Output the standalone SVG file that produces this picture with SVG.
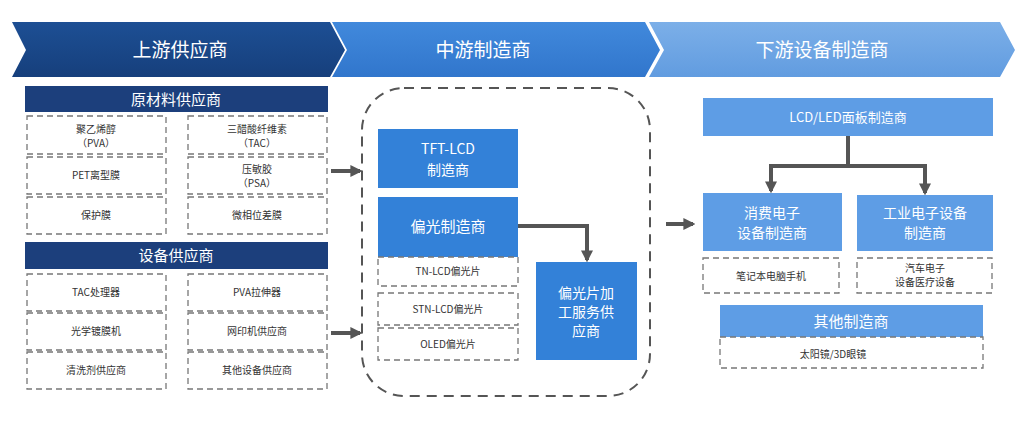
<svg xmlns="http://www.w3.org/2000/svg" width="1024" height="421" viewBox="0 0 1024 421">
<defs>
<linearGradient id="g1" x1="0" y1="0" x2="0" y2="1"><stop offset="0" stop-color="#1d4f94"/><stop offset="1" stop-color="#163f7c"/></linearGradient>
<linearGradient id="g2" x1="0" y1="0" x2="0" y2="1"><stop offset="0" stop-color="#4189dc"/><stop offset="1" stop-color="#3176cc"/></linearGradient>
<linearGradient id="g3" x1="0" y1="0" x2="0" y2="1"><stop offset="0" stop-color="#7cafe8"/><stop offset="1" stop-color="#619ce0"/></linearGradient>
<marker id="ah" viewBox="0 0 10 10" refX="8" refY="5" markerWidth="3" markerHeight="3" orient="auto"><path d="M0,0 L10,5 L0,10 z" fill="#555"/></marker>
<style>
.hdr{fill:#fff;font-family:"Noto Sans CJK SC","Liberation Sans",sans-serif;font-size:19px;text-anchor:middle}
.sub{fill:#fff;font-family:"Noto Sans CJK SC","Liberation Sans",sans-serif;font-size:15px;text-anchor:middle}
.wt{fill:#fff;font-family:"Noto Sans CJK SC","Liberation Sans",sans-serif;font-size:14px;text-anchor:middle}
.ct{fill:#333;font-family:"Noto Sans CJK SC","Liberation Sans",sans-serif;font-size:10px;text-anchor:middle}
.cell{fill:#fff;stroke:#777;stroke-width:1.3;stroke-dasharray:6,4}
.navy{fill:#1c3f7c}
.mid{fill:#3381d8}
.rgt{fill:#5e9de5}
.conn{fill:none;stroke:#555;stroke-width:4}
</style>
</defs>
<rect width="1024" height="421" fill="#fff"/>
<g id="banner">
<path d="M12,22 L330,22 L345,50 L330,77 L12,77 L26,50 z" fill="url(#g1)"/>
<path d="M332,22 L645,22 L660,50 L645,77 L332,77 L347,50 z" fill="url(#g2)"/>
<path d="M649,22 L1000,22 L1015,50 L1000,77 L649,77 L664,50 z" fill="url(#g3)"/>
<text class="hdr" x="180" y="57">上游供应商</text>
<text class="hdr" x="483" y="57">中游制造商</text>
<text class="hdr" x="822" y="57">下游设备制造商</text>
</g>
<g id="raw">
<rect class="navy" x="25" y="86" width="303" height="26"/>
<text class="sub" x="176" y="105">原材料供应商</text>
<rect class="cell" x="27" y="116" width="139" height="38"/>
<text class="ct" x="96" y="133">聚乙烯醇</text><text class="ct" x="96" y="147">（PVA）</text>
<rect class="cell" x="188" y="116" width="139" height="38"/>
<text class="ct" x="257" y="133">三醋酸纤维素</text><text class="ct" x="257" y="147">（TAC）</text>
<rect class="cell" x="27" y="157" width="139" height="37"/>
<text class="ct" x="96" y="179">PET离型膜</text>
<rect class="cell" x="188" y="157" width="139" height="37"/>
<text class="ct" x="257" y="173">压敏胶</text><text class="ct" x="257" y="187">（PSA）</text>
<rect class="cell" x="27" y="197" width="139" height="37"/>
<text class="ct" x="96" y="219">保护膜</text>
<rect class="cell" x="188" y="197" width="139" height="37"/>
<text class="ct" x="257" y="219">微相位差膜</text>
</g>
<g id="equip">
<rect class="navy" x="25" y="242" width="303" height="27"/>
<text class="sub" x="176" y="261">设备供应商</text>
<rect class="cell" x="27" y="274" width="139" height="37"/>
<text class="ct" x="96" y="296">TAC处理器</text>
<rect class="cell" x="188" y="274" width="139" height="37"/>
<text class="ct" x="257" y="296">PVA拉伸器</text>
<rect class="cell" x="27" y="313" width="139" height="37"/>
<text class="ct" x="96" y="335">光学镀膜机</text>
<rect class="cell" x="188" y="313" width="139" height="37"/>
<text class="ct" x="257" y="335">网印机供应商</text>
<rect class="cell" x="27" y="352" width="139" height="37"/>
<text class="ct" x="96" y="374">清洗剂供应商</text>
<rect class="cell" x="188" y="352" width="139" height="37"/>
<text class="ct" x="257" y="374">其他设备供应商</text>
</g>
<g id="midstream">
<rect x="362" y="88" width="288" height="308" rx="42" fill="none" stroke="#555" stroke-width="2" stroke-dasharray="10,7"/>
<g id="tft"><rect class="mid" x="378" y="129" width="140" height="59"/>
<text class="wt" x="448" y="154">TFT-LCD</text><text class="wt" x="448" y="175">制造商</text></g>
<g id="pol"><rect class="mid" x="378" y="197" width="140" height="60"/>
<text class="sub" x="448" y="232">偏光制造商</text></g>
<rect class="cell" x="378" y="257" width="140" height="29"/>
<text class="ct" x="448" y="275">TN-LCD偏光片</text>
<rect class="cell" x="378" y="293" width="140" height="32"/>
<text class="ct" x="448" y="313">STN-LCD偏光片</text>
<rect class="cell" x="378" y="328" width="140" height="32"/>
<text class="ct" x="448" y="348">OLED偏光片</text>
<g id="svc"><rect class="mid" x="536" y="262" width="101" height="98"/>
<text class="wt" x="586" y="298">偏光片加</text><text class="wt" x="586" y="317">工服务供</text><text class="wt" x="586" y="336">应商</text></g>
</g>
<g id="downstream">
<g id="panel"><rect class="rgt" x="703" y="98" width="290" height="38"/>
<text class="ct" x="848" y="122" style="fill:#fff;font-size:13px">LCD/LED面板制造商</text></g>
<g id="cons"><rect class="rgt" x="703" y="193" width="139" height="58"/>
<text class="wt" x="772" y="218">消费电子</text><text class="wt" x="772" y="238">设备制造商</text></g>
<g id="ind"><rect class="rgt" x="857" y="195" width="136" height="56"/>
<text class="wt" x="925" y="218">工业电子设备</text><text class="wt" x="925" y="238">制造商</text></g>
<rect class="cell" x="703" y="258" width="136" height="35"/>
<text class="ct" x="771" y="280">笔记本电脑手机</text>
<rect class="cell" x="857" y="258" width="135" height="35"/>
<text class="ct" x="925" y="272">汽车电子</text><text class="ct" x="925" y="286">设备医疗设备</text>
<g id="other"><rect class="rgt" x="720" y="305" width="263" height="32"/>
<text class="sub" x="851" y="327">其他制造商</text></g>
<rect class="cell" x="720" y="337" width="263" height="31"/>
<text class="ct" x="833" y="358">太阳镜/3D眼镜</text>
</g>
<g id="connectors">
<path class="conn" d="M331,171 L360,171" marker-end="url(#ah)"/>
<path class="conn" d="M331,333 L360,333" marker-end="url(#ah)"/>
<path class="conn" d="M666,224 L693,224" marker-end="url(#ah)"/>
<path class="conn" d="M518,226 L587,226 L587,260" marker-end="url(#ah)"/>
<path class="conn" d="M848,136 L848,166"/>
<path class="conn" d="M769,166 L927,166"/>
<path class="conn" d="M771,164 L771,191" marker-end="url(#ah)"/>
<path class="conn" d="M925,164 L925,193" marker-end="url(#ah)"/>
</g>
</svg>
